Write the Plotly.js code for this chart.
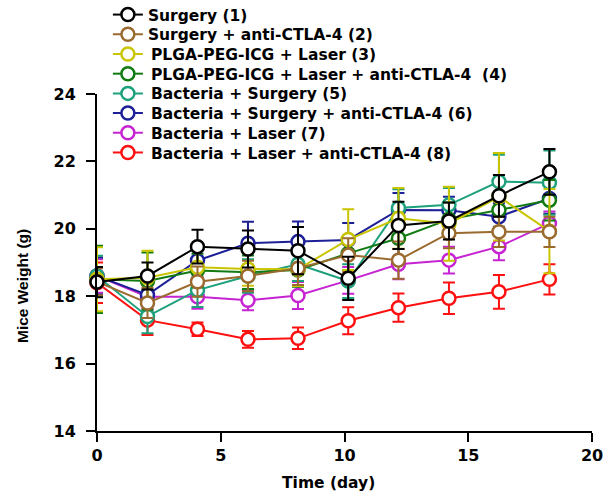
<!DOCTYPE html>
<html>
<head>
<meta charset="utf-8">
<script src="https://cdn.plot.ly/plotly-3.0.1.min.js"></script>
<style>html,body{margin:0;padding:0;background:#fff;}#chart{width:611px;height:499px;}</style>
</head>
<body>
<div id="chart"></div>
<script>
// Time points as positioned in the figure (days)
const days = [0, 2.04, 4.06, 6.1, 8.12, 10.15, 12.18, 14.22, 16.24, 18.28];

const names = [
  "Surgery (1)",
  "Surgery + anti-CTLA-4 (2)",
  "\u2009PLGA-PEG-ICG + Laser (3)",
  "\u2009PLGA-PEG-ICG + Laser + anti-CTLA-4  (4)",
  "\u2009Bacteria + Surgery (5)",
  "\u2009Bacteria + Surgery + anti-CTLA-4 (6)",
  "\u2009Bacteria + Laser (7)",
  "\u2009Bacteria + Laser + anti-CTLA-4 (8)"
];

const surgery        = [18.42, 18.6, 19.47, 19.4, 19.35, 18.53, 20.1, 20.23, 20.98, 21.69];
const surgeryAnti    = [18.43, 17.8, 18.43, 18.6, 18.83, 19.22, 19.07, 19.87, 19.91, 19.91];
const plgaLaser      = [18.5, 18.55, 18.86, 18.81, 18.8, 19.68, 20.31, 20.15, 20.95, 19.93];
const plgaLaserAnti  = [18.5, 18.45, 18.76, 18.71, 18.78, 19.27, 19.72, 20.28, 20.56, 20.85];
const bactSurgery    = [18.6, 17.4, 18.18, 18.6, 18.95, 18.45, 20.62, 20.71, 21.4, 21.37];
const bactSurgAnti   = [18.6, 18.04, 19.06, 19.57, 19.62, 19.67, 20.56, 20.55, 20.36, 20.9];
const bactLaser      = [18.6, 17.98, 17.98, 17.88, 18.02, 18.47, 18.95, 19.07, 19.47, 20.16];
const bactLaserAnti  = [18.4, 17.29, 17.02, 16.72, 16.75, 17.27, 17.66, 17.94, 18.13, 18.5];

const errSurgery       = [0.45, 0.4, 0.5, 0.55, 0.7, 0.64, 0.7, 0.55, 0.62, 0.68];
const errSurgeryAnti   = [0.4, 0.45, 0.45, 0.45, 0.5, 0.5, 0.55, 0.45, 0.45, 0.45];
const errPlgaLaser     = [0.95, 0.8, 0.5, 0.5, 0.5, 0.9, 0.9, 1.1, 1.3, 1.25];
const errPlgaLaserAnti = [1.0, 0.85, 0.5, 0.5, 0.5, 0.5, 0.6, 0.5, 0.5, 0.6];
const errBactSurgery   = [0.6, 0.5, 0.5, 0.5, 0.5, 0.5, 0.55, 0.5, 0.8, 0.95];
const errBactSurgAnti  = [0.55, 0.5, 0.5, 0.64, 0.6, 0.5, 0.5, 0.4, 0.4, 0.45];
const errBactLaser     = [0.5, 0.35, 0.35, 0.3, 0.4, 0.4, 0.45, 0.4, 0.4, 0.35];
const errBactLaserAnti = [0.6, 0.44, 0.2, 0.25, 0.32, 0.4, 0.42, 0.47, 0.5, 0.45];

const xTicks = [0, 5, 10, 15, 20];
const yTicks = [14, 16, 18, 20, 22, 24];
const xTitle = "Time (day)";
const yTitle = "Mice Weight (g)";

const series = [surgery, surgeryAnti, plgaLaser, plgaLaserAnti, bactSurgery, bactSurgAnti, bactLaser, bactLaserAnti];
const errors = [errSurgery, errSurgeryAnti, errPlgaLaser, errPlgaLaserAnti, errBactSurgery, errBactSurgAnti, errBactLaser, errBactLaserAnti];
const colors = ["#000000", "#9B6A2F", "#C9C500", "#117A11", "#1DA07C", "#1C1F96", "#C624D2", "#FF1010"];

const W = 611, H = 499;
const M = {l: 97, r: 19, t: 94, b: 68};
const plotH = H - M.t - M.b;
const plotW = W - M.l - M.r;

const wide = {family: "DejaVu Sans, sans-serif", color: "#000"};
const narrow = {family: "Liberation Sans, Arial, sans-serif", color: "#000"};
const boldWide = (s) => Object.assign({size: s, weight: "bold"}, wide);
const boldNarrow = (s) => Object.assign({size: s, weight: "bold"}, narrow);

const traces = [];
for (let i = series.length - 1; i >= 0; i--) {
  traces.push({
    type: "scatter",
    mode: "lines+markers",
    x: days,
    y: series[i],
    name: names[i],
    legend: i === 0 ? "legend" : "legend" + (i + 1),
    line: {color: colors[i], width: 2},
    marker: {symbol: "circle", size: 13, color: "#ffffff", line: {color: colors[i], width: 2.5}},
    error_y: {type: "data", array: errors[i], visible: true, color: colors[i], thickness: 2, width: 6},
    cliponaxis: false
  });
}

const layout = {
  width: W, height: H,
  margin: Object.assign({autoexpand: false}, M),
  paper_bgcolor: "#fff", plot_bgcolor: "#fff",
  showlegend: true,
  xaxis: {
    range: [0, 20], tickvals: xTicks, ticktext: xTicks.map(String),
    showgrid: false, zeroline: false, showline: true, linecolor: "#000", linewidth: 2,
    ticks: "outside", ticklen: 9, tickwidth: 2, tickcolor: "#000",
    tickfont: boldWide(16)
  },
  yaxis: {
    range: [14, 24], tickvals: yTicks, ticktext: yTicks.map(String),
    showgrid: false, zeroline: false, showline: true, linecolor: "#000", linewidth: 2,
    ticks: "outside", ticklen: 9, tickwidth: 2, tickcolor: "#000",
    tickfont: boldWide(16), ticklabelstandoff: 7
  },
  annotations: [
    {text: xTitle, xref: "paper", yref: "paper", x: (328 - M.l) / plotW, y: (M.t + plotH - 483) / plotH,
     showarrow: false, font: boldWide(15.5), xanchor: "center", yanchor: "middle"},
    {text: yTitle, xref: "paper", yref: "paper", x: (22 - M.l) / plotW, y: (M.t + plotH - 286) / plotH,
     showarrow: false, font: boldNarrow(15.5), textangle: -90, xanchor: "center", yanchor: "middle"}
  ],
  shapes: [
    {type: "line", xref: "x", yref: "y", x0: 0, x1: 0, y0: 14, y1: 13.8, line: {color: "#000", width: 2}},
    {type: "line", xref: "x", yref: "y", x0: -0.4, x1: 0, y0: 14, y1: 14, line: {color: "#000", width: 2}}
  ]
};

// one legend box per entry so the row spacing matches the figure
for (let i = 0; i < names.length; i++) {
  const key = i === 0 ? "legend" : "legend" + (i + 1);
  const centerPx = 15 + 19.7 * i;
  layout[key] = {
    x: 0.022, y: (M.t + plotH - centerPx) / plotH, xanchor: "left", yanchor: "middle",
    font: boldWide(15.5), bgcolor: "rgba(0,0,0,0)", itemwidth: 30
  };
}

Plotly.newPlot("chart", traces, layout, {displayModeBar: false, staticPlot: true});
</script>
</body>
</html>
